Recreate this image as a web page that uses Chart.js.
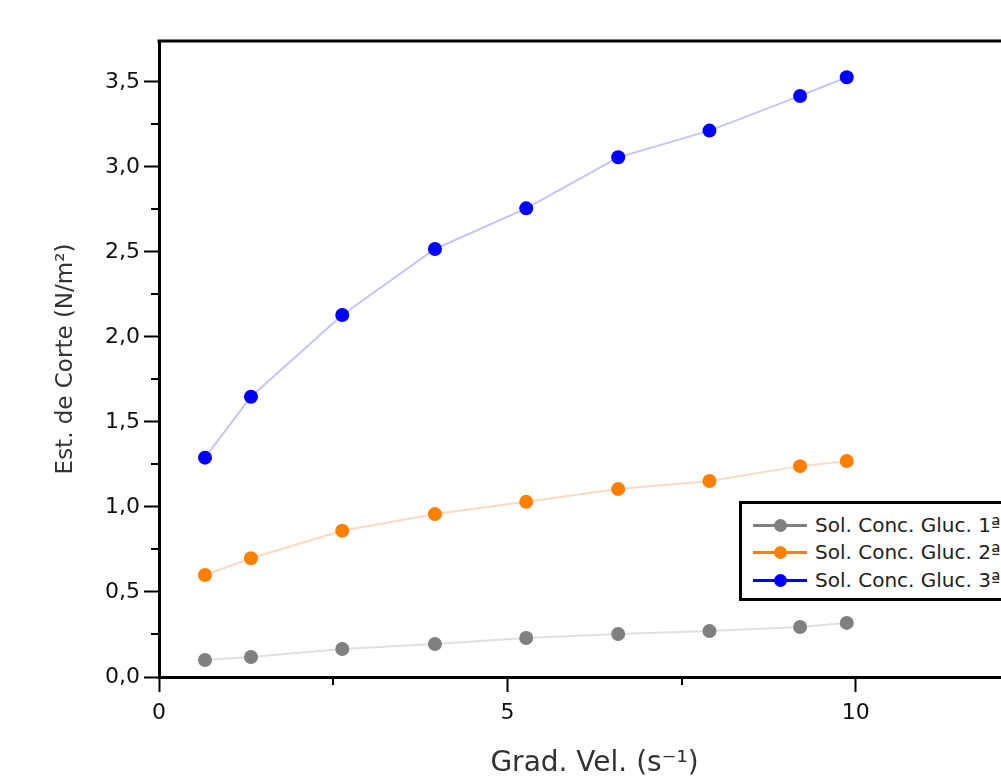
<!DOCTYPE html>
<html><head><meta charset="utf-8">
<script src="https://cdn.jsdelivr.net/npm/chart.js@4"></script>
<style>
html,body{margin:0;padding:0;background:#fff;overflow:hidden;width:1001px;height:781px}
#wrap{position:absolute;left:0;top:0;width:1200px;height:781px}
#legend{position:absolute;left:739px;top:501px;width:330px;height:94px;border:3px solid #000;background:#fff;font-family:"DejaVu Sans",sans-serif;font-size:20px;color:#222}
.row{position:absolute;left:0;width:100%;height:0}
.ln{position:absolute;left:11px;width:54px;height:3px;top:-1.5px}
.dot{position:absolute;left:32px;width:13px;height:13px;border-radius:50%;top:-6.5px}
.tx{position:absolute;left:73px;top:-12px;white-space:nowrap;line-height:24px}
</style>
</head><body>
<div id="wrap"><canvas id="c"></canvas></div>
<div id="legend"></div>
<script>
const xVals = [0.66, 1.32, 2.63, 3.96, 5.27, 6.59, 7.90, 9.20, 9.87];
const gluc1 = [0.10, 0.118, 0.165, 0.194, 0.229, 0.253, 0.27, 0.294, 0.318];
const gluc2 = [0.60, 0.698, 0.86, 0.958, 1.03, 1.105, 1.153, 1.24, 1.27];
const gluc3 = [1.29, 1.648, 2.129, 2.517, 2.756, 3.056, 3.213, 3.417, 3.527];
const seriesNames = ['Sol. Conc. Gluc. 1ª', 'Sol. Conc. Gluc. 2ª', 'Sol. Conc. Gluc. 3ª'];
const xMajor = [0, 5, 10];
const xMinor = [2.5, 7.5];
const yMinor = [0.25, 0.75, 1.25, 1.75, 2.25, 2.75, 3.25];
const xTitle = 'Grad. Vel. (s⁻¹)';
const yTitle = 'Est. de Corte (N/m²)';

const pointCols = ['#808080', '#ff8000', '#0000ff'];
const lineCols = ['#e0e0e0', '#ffd9c2', '#c4c4ff'];
const allY = [gluc1, gluc2, gluc3];

const datasets = allY.map((arr, i) => ({
  label: seriesNames[i],
  data: xVals.map((x, k) => ({x, y: arr[k]})),
  borderColor: lineCols[i],
  borderWidth: 2,
  pointBackgroundColor: pointCols[i],
  pointBorderWidth: 0,
  pointRadius: 7,
  pointHoverRadius: 7,
  tension: 0,
  fill: false
}));

const extras = {
  id: 'extras',
  afterDraw(chart) {
    const ctx = chart.ctx, xs = chart.scales.x, ys = chart.scales.y, a = chart.chartArea;
    ctx.save();
    ctx.strokeStyle = '#000';
    ctx.lineWidth = 2;
    yMinor.forEach(v => {
      const p = Math.round(ys.getPixelForValue(v));
      ctx.beginPath(); ctx.moveTo(a.left - 8, p); ctx.lineTo(a.left, p); ctx.stroke();
    });
    xMinor.forEach(v => {
      const p = Math.round(xs.getPixelForValue(v));
      ctx.beginPath(); ctx.moveTo(p, a.bottom); ctx.lineTo(p, a.bottom + 8); ctx.stroke();
    });
    ctx.lineWidth = 3;
    ctx.beginPath();
    ctx.moveTo(a.left - 1.5, a.top);
    ctx.lineTo(a.right, a.top);
    ctx.lineTo(a.right, a.bottom);
    ctx.stroke();
    ctx.restore();
  }
};

const fmt = v => v.toFixed(1).replace('.', ',');

new Chart(document.getElementById('c'), {
  type: 'line',
  data: { datasets },
  options: {
    responsive: true,
    maintainAspectRatio: false,
    animation: false,
    layout: { padding: { top: 41, right: 170, bottom: 0, left: 0 } },
    plugins: { legend: { display: false }, tooltip: { enabled: false } },
    scales: {
      x: {
        type: 'linear', min: 0, max: 12.5,
        afterFit(s) { s.height = 104; },
        afterBuildTicks(s) { s.ticks = xMajor.map(v => ({value: v})); },
        ticks: { autoSkip: false, maxRotation: 0, padding: 8, color: '#111',
                 font: { family: 'DejaVu Sans', size: 22 }, callback: v => String(v) },
        grid: { drawOnChartArea: false, drawTicks: true, tickLength: 15, tickWidth: 2, tickColor: '#000' },
        border: { display: true, width: 3, color: '#000' },
        title: { display: true, text: xTitle, color: '#333',
                 font: { family: 'DejaVu Sans', size: 28 }, padding: { top: 0, bottom: 0 } }
      },
      y: {
        type: 'linear', min: 0, max: 3.74,
        afterFit(s) { s.width = 159; },
        ticks: { stepSize: 0.5, includeBounds: false, autoSkip: false, padding: 4, color: '#111',
                 font: { family: 'DejaVu Sans', size: 22 }, callback: v => fmt(v) },
        grid: { drawOnChartArea: false, drawTicks: true, tickLength: 15, tickWidth: 2, tickColor: '#000' },
        border: { display: true, width: 3, color: '#000' },
        title: { display: true, text: yTitle, color: '#333',
                 font: { family: 'DejaVu Sans', size: 23 }, padding: { top: 52, bottom: 0 } }
      }
    }
  },
  plugins: [extras]
});

const lg = document.getElementById('legend');
const rowY = [21, 48, 76];
seriesNames.forEach((n, i) => {
  const r = document.createElement('div');
  r.className = 'row';
  r.style.top = rowY[i] + 'px';
  r.innerHTML = '<div class="ln" style="background:' + pointCols[i] + '"></div>' +
                '<div class="dot" style="background:' + pointCols[i] + '"></div>' +
                '<div class="tx">' + n + '</div>';
  lg.appendChild(r);
});
</script>
</body></html>
